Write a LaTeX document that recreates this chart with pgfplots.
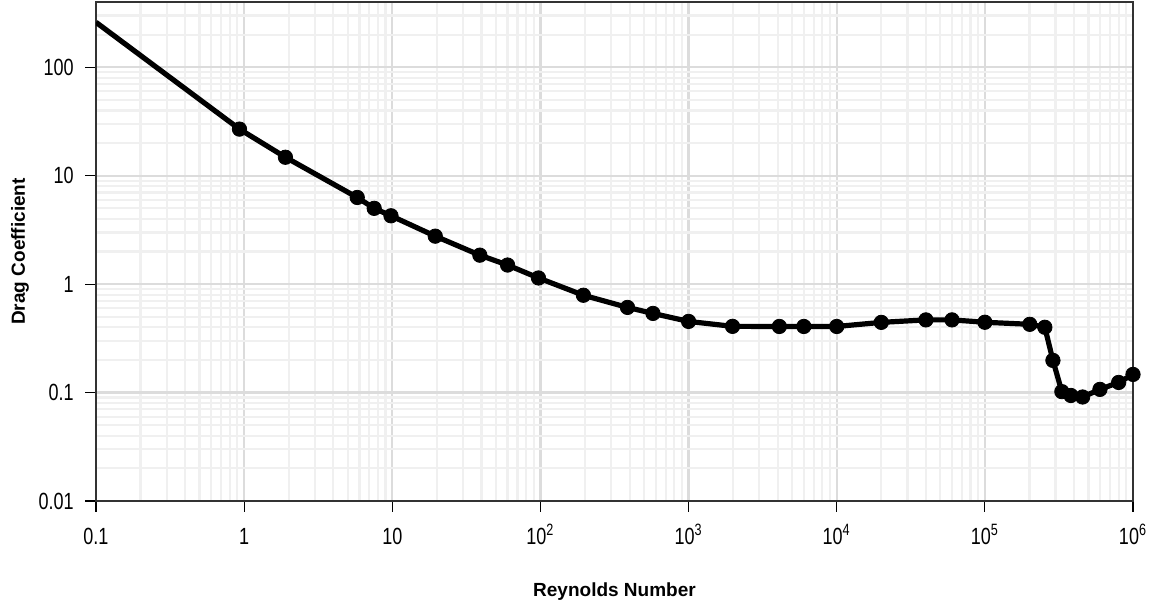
\documentclass[border=0pt]{standalone}
\usepackage{pgfplots}
\pgfplotsset{compat=1.18}
\usepackage{pgfplotstable}
\usepackage{fontspec}
\setmainfont{Liberation Sans}
\newfontfamily\tickfont[FakeStretch=0.77]{Liberation Sans}
\definecolor{majgrid}{HTML}{DCDCDC}
\definecolor{mingrid}{HTML}{F0F0F0}
\definecolor{spine}{HTML}{333333}
\pgfplotstableread{
x y
0.1 260
0.93 26.9
1.9 14.8
5.8 6.3
7.55 5.0
9.8 4.27
19.5 2.77
39 1.85
60 1.50
97 1.14
195 0.79
387 0.61
575 0.537
1000 0.453
1980 0.408
4100 0.407
6000 0.407
10000 0.407
20000 0.444
40000 0.468
60000 0.468
100000 0.445
201000 0.426
254000 0.40
288000 0.198
331000 0.102
381000 0.094
457000 0.091
598000 0.107
800000 0.124
1000000 0.147
}\drag
\begin{document}
\begin{tikzpicture}
\useasboundingbox (-48pt,-53.5pt) rectangle (531.5pt,250.5pt);
\begin{loglogaxis}[
  scale only axis,
  width=518.5pt, height=249.5pt,
  xmin=0.1, xmax=1e6, ymin=0.01, ymax=400,
  xtick={0.1,1,10,100,1000,10000,100000,1000000},
  xticklabels={0.1,1,10,10\textsuperscript{2},10\textsuperscript{3},10\textsuperscript{4},10\textsuperscript{5},10\textsuperscript{6}},
  ytick={0.01,0.1,1,10,100},
  yticklabels={0.01,0.1,1,10,100},
  minor xtick={0.2,0.3,0.4,0.5,0.6,0.7,0.8,0.9,2,3,4,5,6,7,8,9,20,30,40,50,60,70,80,90,200,300,400,500,600,700,800,900,2000,3000,4000,5000,6000,7000,8000,9000,20000,30000,40000,50000,60000,70000,80000,90000,200000,300000,400000,500000,600000,700000,800000,900000},
  minor ytick={0.02,0.03,0.04,0.05,0.06,0.07,0.08,0.09,0.2,0.3,0.4,0.5,0.6,0.7,0.8,0.9,2,3,4,5,6,7,8,9,20,30,40,50,60,70,80,90,200,300},
  grid=both,
  major grid style={majgrid, line width=1.1pt},
  minor grid style={mingrid, line width=1.1pt},
  minor tick length=0pt,
  major tick length=5.5pt,
  tick align=outside,
  tick pos=left,
  tick style={black, line width=0.6pt},
  axis line style={spine, line width=1.1pt},
  ticklabel style={font=\tickfont\fontsize{11.7}{13}\selectfont},
  xticklabel style={inner sep=0pt, anchor=base, yshift=-16.3pt},
  yticklabel style={inner sep=0pt, anchor=east, xshift=-5.5pt},
  xlabel={Reynolds Number},
  ylabel={Drag Coefficient},
  label style={font=\fontsize{9.5}{11}\selectfont\bfseries},
  xlabel style={at={(axis description cs:0.5,0)}, anchor=center, yshift=-45.5pt},
  ylabel style={at={(axis description cs:0,0.5)}, anchor=center, yshift=38pt},
]
\addplot[black, line width=2.6pt, line join=round, no marks] table[x=x, y=y] {\drag};
\addplot[black, only marks, mark=*, mark size=3.6pt, skip coords between index={0}{1}] table[x=x, y=y] {\drag};
\end{loglogaxis}
\end{tikzpicture}
\end{document}
